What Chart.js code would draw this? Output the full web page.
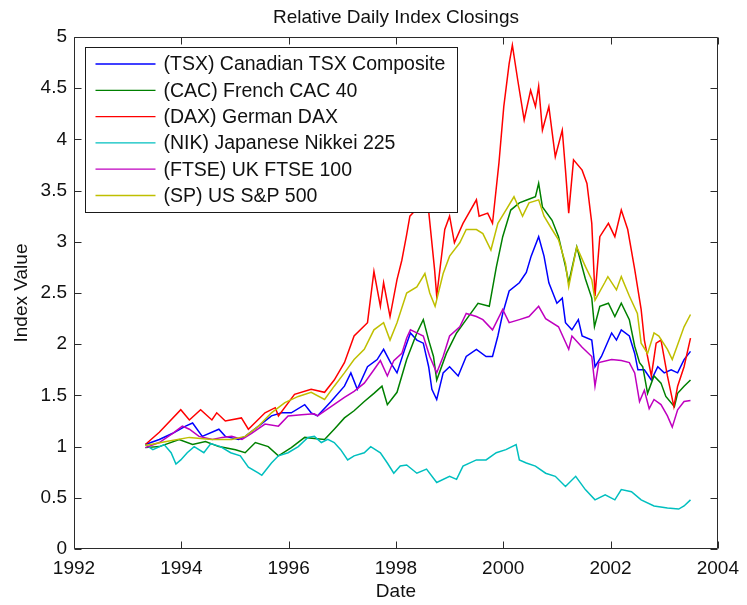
<!DOCTYPE html>
<html><head><meta charset="utf-8">
<script src="https://cdn.jsdelivr.net/npm/chart.js@4.4.0/dist/chart.umd.min.js"></script>
<style>html,body{margin:0;padding:0;background:#fff;overflow:hidden;}</style>
</head><body>
<canvas id="c" width="747" height="605"></canvas>
<script>
const titleText = "Relative Daily Index Closings";
const xTitle = "Date";
const yTitle = "Index Value";
const seriesNames = ["(TSX) Canadian TSX Composite","(CAC) French CAC 40","(DAX) German DAX","(NIK) Japanese Nikkei 225","(FTSE) UK FTSE 100","(SP) US S&P 500"];
const xTickValues = [1992,1994,1996,1998,2000,2002,2004];
const yTickValues = [0,0.5,1,1.5,2,2.5,3,3.5,4,4.5,5];

const tsxDates = [1993.33,1993.59,1993.84,1994.08,1994.21,1994.39,1994.70,1994.82,1995.07,1995.19,1995.44,1995.68,1995.87,1996.05,1996.30,1996.42,1996.54,1996.79,1997.04,1997.16,1997.28,1997.47,1997.65,1997.77,1997.90,1998.02,1998.17,1998.27,1998.39,1998.51,1998.61,1998.67,1998.76,1998.88,1999.00,1999.16,1999.31,1999.50,1999.68,1999.80,1999.90,1999.99,2000.11,2000.30,2000.43,2000.52,2000.66,2000.76,2000.85,2001.00,2001.10,2001.16,2001.28,2001.40,2001.47,2001.65,2001.71,2001.83,2002.02,2002.11,2002.20,2002.35,2002.45,2002.51,2002.63,2002.76,2002.88,2003.00,2003.13,2003.25,2003.37,2003.49];
const tsxValues = [1.02,1.07,1.13,1.20,1.23,1.10,1.17,1.10,1.07,1.10,1.20,1.30,1.33,1.33,1.41,1.33,1.30,1.44,1.59,1.72,1.56,1.78,1.85,1.95,1.82,1.72,1.96,2.11,2.04,2.01,1.78,1.56,1.46,1.72,1.78,1.69,1.88,1.95,1.88,1.88,2.08,2.30,2.52,2.60,2.70,2.86,3.05,2.86,2.60,2.40,2.45,2.21,2.14,2.24,2.08,2.04,1.78,1.88,2.11,2.04,2.14,2.08,1.91,1.75,1.75,1.65,1.78,1.72,1.75,1.72,1.85,1.93];

const cacDates = [1993.33,1993.59,1993.96,1994.21,1994.45,1994.70,1995.01,1995.19,1995.38,1995.62,1995.81,1996.05,1996.30,1996.48,1996.67,1996.85,1997.04,1997.22,1997.41,1997.59,1997.74,1997.84,1998.02,1998.20,1998.39,1998.51,1998.61,1998.70,1998.76,1998.94,1999.13,1999.31,1999.53,1999.74,1999.87,1999.99,2000.14,2000.30,2000.45,2000.60,2000.66,2000.73,2000.91,2001.03,2001.16,2001.22,2001.37,2001.53,2001.65,2001.70,2001.80,2001.96,2002.08,2002.20,2002.35,2002.45,2002.54,2002.60,2002.69,2002.81,2002.94,2003.03,2003.19,2003.25,2003.37,2003.49];
const cacValues = [0.99,1.00,1.07,1.02,1.05,1.00,0.97,0.94,1.04,1.00,0.91,0.99,1.09,1.08,1.07,1.17,1.28,1.35,1.44,1.52,1.59,1.41,1.53,1.85,2.11,2.24,2.04,1.88,1.65,1.91,2.11,2.24,2.40,2.37,2.75,3.05,3.31,3.38,3.41,3.44,3.57,3.34,3.21,3.05,2.76,2.60,2.95,2.64,2.45,2.17,2.37,2.40,2.27,2.40,2.24,1.98,1.82,1.78,1.52,1.69,1.62,1.49,1.39,1.52,1.59,1.65];

const daxDates = [1993.33,1993.59,1993.99,1994.15,1994.36,1994.57,1994.66,1994.82,1995.12,1995.25,1995.56,1995.75,1995.81,1996.11,1996.42,1996.67,1996.85,1997.04,1997.22,1997.47,1997.59,1997.71,1997.77,1997.89,1998.02,1998.11,1998.20,1998.26,1998.35,1998.61,1998.72,1998.76,1998.91,1999.00,1999.09,1999.25,1999.50,1999.55,1999.71,1999.80,1999.92,2000.01,2000.11,2000.17,2000.27,2000.39,2000.51,2000.60,2000.66,2000.73,2000.85,2000.97,2001.10,2001.16,2001.22,2001.31,2001.47,2001.56,2001.65,2001.71,2001.80,2001.96,2002.08,2002.20,2002.32,2002.45,2002.57,2002.63,2002.76,2002.85,2002.94,2003.06,2003.18,2003.25,2003.37,2003.49];
const daxValues = [1.02,1.14,1.36,1.26,1.36,1.26,1.33,1.25,1.28,1.17,1.33,1.38,1.30,1.51,1.56,1.53,1.65,1.82,2.08,2.21,2.71,2.37,2.60,2.27,2.63,2.82,3.07,3.25,3.30,3.30,2.73,2.47,3.12,3.25,2.99,3.18,3.41,3.25,3.28,3.18,3.77,4.32,4.74,4.92,4.58,4.19,4.48,4.32,4.52,4.09,4.32,3.83,4.09,3.70,3.28,3.80,3.70,3.57,3.18,2.47,3.05,3.18,3.05,3.31,3.12,2.73,2.34,2.04,1.69,2.01,2.04,1.69,1.39,1.59,1.78,2.06];

const nikDates = [1993.33,1993.47,1993.68,1993.81,1993.90,1993.99,1994.11,1994.24,1994.42,1994.55,1994.73,1994.92,1995.10,1995.25,1995.44,1995.50,1995.68,1995.81,1995.99,1996.18,1996.36,1996.48,1996.61,1996.73,1996.85,1996.97,1997.10,1997.22,1997.41,1997.53,1997.71,1997.84,1997.96,1998.08,1998.20,1998.39,1998.57,1998.76,1999.00,1999.13,1999.25,1999.50,1999.68,1999.87,2000.05,2000.24,2000.30,2000.43,2000.60,2000.79,2000.97,2001.16,2001.35,2001.53,2001.71,2001.90,2002.08,2002.20,2002.39,2002.57,2002.81,2003.06,2003.27,2003.37,2003.49];
const nikValues = [1.02,0.97,1.02,0.94,0.83,0.87,0.94,1.00,0.94,1.03,1.00,0.94,0.91,0.80,0.74,0.72,0.84,0.91,0.94,1.00,1.09,1.10,1.04,1.07,1.04,0.97,0.87,0.91,0.94,1.00,0.94,0.84,0.74,0.81,0.82,0.74,0.78,0.65,0.71,0.68,0.81,0.87,0.87,0.94,0.97,1.02,0.87,0.84,0.81,0.74,0.71,0.61,0.71,0.58,0.48,0.53,0.48,0.58,0.56,0.48,0.42,0.40,0.39,0.42,0.48];

const ftseDates = [1993.33,1993.59,1993.84,1994.02,1994.15,1994.33,1994.58,1994.76,1994.94,1995.13,1995.31,1995.56,1995.81,1995.99,1996.24,1996.48,1996.54,1996.79,1997.04,1997.22,1997.41,1997.59,1997.71,1997.84,1997.96,1998.11,1998.20,1998.27,1998.39,1998.51,1998.63,1998.76,1998.88,1999.00,1999.19,1999.31,1999.50,1999.62,1999.80,1999.99,2000.11,2000.30,2000.48,2000.66,2000.79,2001.03,2001.22,2001.28,2001.47,2001.65,2001.71,2001.78,2002.02,2002.20,2002.35,2002.45,2002.54,2002.63,2002.72,2002.81,2002.94,2003.06,2003.15,2003.25,2003.37,2003.49];
const ftseValues = [0.99,1.04,1.13,1.20,1.17,1.10,1.07,1.09,1.10,1.07,1.13,1.22,1.20,1.30,1.31,1.32,1.30,1.39,1.48,1.54,1.62,1.75,1.84,1.69,1.84,1.91,2.06,2.14,2.11,2.08,1.88,1.72,1.88,2.08,2.17,2.30,2.27,2.24,2.14,2.34,2.21,2.24,2.27,2.37,2.25,2.17,1.95,2.08,1.97,1.88,1.59,1.82,1.85,1.84,1.82,1.72,1.44,1.55,1.37,1.46,1.41,1.30,1.19,1.36,1.44,1.45];

const spDates = [1993.33,1993.72,1994.15,1994.57,1994.94,1995.19,1995.44,1995.68,1995.93,1996.18,1996.42,1996.67,1996.85,1997.04,1997.22,1997.41,1997.59,1997.77,1997.89,1998.02,1998.20,1998.39,1998.54,1998.63,1998.73,1998.88,1999.00,1999.19,1999.31,1999.50,1999.62,1999.77,1999.90,2000.05,2000.20,2000.36,2000.48,2000.66,2000.76,2000.91,2001.03,2001.16,2001.22,2001.37,2001.53,2001.65,2001.71,2001.89,2001.95,2002.11,2002.20,2002.35,2002.50,2002.57,2002.69,2002.81,2002.90,2003.06,2003.15,2003.24,2003.37,2003.49];
const spValues = [1.01,1.05,1.09,1.07,1.07,1.10,1.20,1.33,1.43,1.49,1.53,1.46,1.59,1.72,1.85,1.95,2.14,2.21,2.04,2.21,2.50,2.56,2.69,2.50,2.37,2.69,2.86,2.99,3.12,3.12,3.08,2.92,3.18,3.31,3.44,3.25,3.38,3.41,3.25,3.12,3.02,2.79,2.56,2.95,2.76,2.63,2.43,2.60,2.66,2.53,2.66,2.47,2.30,2.01,1.91,2.11,2.08,1.95,1.85,1.98,2.17,2.29];

const seriesColors = ["#0000ff","#008000","#ff0000","#00bfbf","#bf00bf","#bfbf00"];

const FONT = '"Liberation Sans", Arial, Helvetica, sans-serif';
function pts(d, v){ const n=Math.min(d.length,v.length); const out=[]; for(let i=0;i<n;i++) out.push({x:d[i],y:v[i]}); return out; }
const allDates = [tsxDates,cacDates,daxDates,nikDates,ftseDates,spDates];
const allValues = [tsxValues,cacValues,daxValues,nikValues,ftseValues,spValues];

const datasets = seriesNames.map((name,i)=>({
  label:name, data:pts(allDates[i],allValues[i]), borderColor:seriesColors[i], backgroundColor:seriesColors[i],
  borderWidth:1.5, pointRadius:0, tension:0, fill:false, order:5-i
}));

const decor = {
  id:'decor',
  afterDatasetsDraw(chart){
    const {ctx, chartArea:a, scales:{x,y}} = chart;
    ctx.save();
    ctx.strokeStyle='#2b2b2b'; ctx.lineWidth=1;
    const L=Math.round(a.left)+0.5, R=Math.round(a.right)-0.5, T=Math.round(a.top)+0.5, B=Math.round(a.bottom)-0.5;
    ctx.beginPath(); ctx.rect(L,T,R-L,B-T); ctx.stroke();
    const tl=7;
    ctx.beginPath();
    xTickValues.forEach(v=>{ const px=Math.round(x.getPixelForValue(v))+0.5; ctx.moveTo(px,B); ctx.lineTo(px,B-tl); ctx.moveTo(px,T); ctx.lineTo(px,T+tl); });
    yTickValues.forEach(v=>{ const py=Math.round(y.getPixelForValue(v))+0.5; ctx.moveTo(L,py); ctx.lineTo(L+tl,py); ctx.moveTo(R,py); ctx.lineTo(R-tl,py); });
    ctx.stroke();
    const lx=Math.round(a.left)+11.5, ly=Math.round(a.top)+10.5, lw=372, lh=165;
    ctx.fillStyle='#fff'; ctx.fillRect(lx,ly,lw,lh);
    ctx.strokeStyle='#1a1a1a'; ctx.strokeRect(lx,ly,lw,lh);
    ctx.font='19.5px '+FONT; ctx.textBaseline='middle'; ctx.textAlign='left';
    seriesNames.forEach((n,i)=>{
      const yy=ly+16.5+i*26.3;
      ctx.strokeStyle=seriesColors[i]; ctx.lineWidth=1.3;
      ctx.beginPath(); ctx.moveTo(lx+10,yy); ctx.lineTo(lx+70,yy); ctx.stroke();
      ctx.fillStyle='#111'; ctx.fillText(n,lx+78,yy+1);
    });
    ctx.fillStyle='#111'; ctx.textAlign='center'; ctx.textBaseline='middle';
    ctx.font='19px '+FONT;
    ctx.fillText(titleText,(a.left+a.right)/2,18);
    ctx.fillText(xTitle,(a.left+a.right)/2,592);
    ctx.save(); ctx.translate(22,(a.top+a.bottom)/2); ctx.rotate(-Math.PI/2); ctx.fillText(yTitle,0,0); ctx.restore();
    ctx.restore();
  }
};

new Chart(document.getElementById('c'),{
  type:'line',
  data:{datasets},
  options:{
    responsive:false, animation:false, devicePixelRatio:1,
    layout:{padding:{left:0,right:23,top:37,bottom:0}},
    plugins:{legend:{display:false},tooltip:{enabled:false},title:{display:false}},
    scales:{
      x:{type:'linear',min:1992,max:2004,
         afterFit(s){s.height=56;},
         afterBuildTicks(s){s.ticks=xTickValues.map(v=>({value:v}));},
         grid:{display:false,drawTicks:false}, border:{display:false},
         ticks:{padding:8,color:'#111',font:{family:FONT,size:19},callback:v=>String(v),maxRotation:0,autoSkip:false}},
      y:{type:'linear',min:0,max:5,
         afterFit(s){s.width=74;},
         afterBuildTicks(s){s.ticks=yTickValues.map(v=>({value:v}));},
         grid:{display:false,drawTicks:false}, border:{display:false},
         ticks:{padding:7,color:'#111',font:{family:FONT,size:19},callback:v=>String(v),autoSkip:false}}
    }
  },
  plugins:[decor]
});
</script>
</body></html>
